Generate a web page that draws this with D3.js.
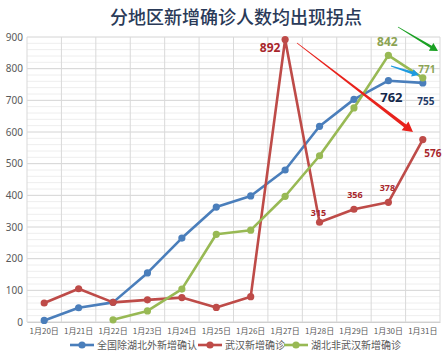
<!DOCTYPE html>
<html><head><meta charset="utf-8">
<script src="https://cdn.jsdelivr.net/npm/d3@7"></script>
<style>body{margin:0;background:#fff}svg{display:block}</style>
</head><body>
<svg id="c" width="448" height="356"></svg>
<script>
const dates = ["1月20日","1月21日","1月22日","1月23日","1月24日","1月25日","1月26日","1月27日","1月28日","1月29日","1月30日","1月31日"];
const outsideHubei = [5,45,62,155,265,363,398,480,618,703,762,755];
const wuhan = [60,105,62,70,77,46,80,892,315,356,378,576];
const hubeiNonWuhan = [null,null,7,35,104,277,290,397,525,676,842,771];
const seriesNames = ["全国除湖北外新增确认","武汉新增确诊","湖北非武汉新增确诊"];
const seriesColors = ["#4a7ebb","#be4b48","#98b954"];
const yTicks = [0,100,200,300,400,500,600,700,800,900];
const title = "分地区新增确诊人数均出现拐点";

const svg = d3.select("#c");
const L = 27, R = 440, T = 37, B = 322;
const x = d3.scaleBand().domain(dates).range([L, R]);
const y = d3.scaleLinear().domain([0, 900]).range([B, T]);
const cx = d => x(d) + x.bandwidth()/2;

// minor grid
const g = svg.append("g");
g.selectAll("line.minor").data(d3.range(0, 901, 20)).join("line")
  .attr("x1", L).attr("x2", R).attr("y1", d => y(d)).attr("y2", d => y(d))
  .attr("stroke", d => d % 100 === 0 ? "#d4d4d4" : "#eeeeee").attr("stroke-width", 1);
// vertical grid
g.selectAll("line.v").data(dates.concat(["end"])).join("line")
  .attr("x1", (d,i) => L + i*x.bandwidth()).attr("x2", (d,i) => L + i*x.bandwidth())
  .attr("y1", T).attr("y2", B).attr("stroke", "#d9d9d9");

// y axis labels
const yAxis = d3.axisLeft(y).tickValues(yTicks).tickSize(0).tickPadding(4);
const ya = svg.append("g").attr("transform", `translate(${L},0)`).call(yAxis);
ya.select(".domain").remove();
ya.selectAll("text").attr("font-family","Noto Sans, sans-serif").attr("font-size",10).attr("fill","#595959");

// x axis labels
const xAxis = d3.axisBottom(x).tickSize(0).tickPadding(6);
const xa = svg.append("g").attr("transform", `translate(0,${B})`).call(xAxis);
xa.select(".domain").attr("stroke","#d0d0d0");
xa.selectAll("text").attr("font-family","Noto Sans CJK SC, sans-serif").attr("font-size",8).attr("fill","#595959");

// lines
const all = [outsideHubei, wuhan, hubeiNonWuhan];
const line = d3.line().defined(d => d[1] !== null).x(d => cx(d[0])).y(d => y(d[1]));
all.forEach((vals, si) => {
  const pts = dates.map((d,i) => [d, vals[i]]);
  svg.append("path").attr("d", line(pts)).attr("fill","none")
    .attr("stroke", seriesColors[si]).attr("stroke-width", 2.6).attr("stroke-linejoin","round");
  svg.append("g").selectAll("circle").data(pts.filter(p => p[1] !== null)).join("circle")
    .attr("cx", p => cx(p[0])).attr("cy", p => y(p[1])).attr("r", 3.6)
    .attr("fill", seriesColors[si]);
});

// title
svg.append("text").attr("x", 236).attr("y", 24).attr("text-anchor","middle")
  .attr("font-family","Noto Sans CJK SC, sans-serif").attr("font-weight","500")
  .attr("font-size",18).attr("fill","#2a3a58").text(title);

// annotations
function lab(t, xx, yy, col, size, weight) {
  svg.append("text").attr("x", xx).attr("y", yy).attr("text-anchor","middle")
    .attr("font-family","Noto Sans, sans-serif").attr("font-size", size)
    .attr("font-weight", weight || "bold").attr("fill", col).text(t);
}
lab(wuhan[7], cx(dates[7]) - 15, y(wuhan[7]) + 12, "#a8262b", 12);
lab(hubeiNonWuhan[10], cx(dates[10]) - 1, y(hubeiNonWuhan[10]) - 9, "#8ca353", 12);
lab(outsideHubei[10], cx(dates[10]) + 3, y(outsideHubei[10]) + 21, "#14284a", 13);
lab(outsideHubei[11], cx(dates[11]) + 3, y(outsideHubei[11]) + 22, "#1f3a66", 10);
lab(hubeiNonWuhan[11], cx(dates[11]) + 4, y(hubeiNonWuhan[11]) - 5, "#8ca353", 10);
lab(wuhan[8], cx(dates[8]) - 1, y(wuhan[8]) - 6, "#a8262b", 9);
lab(wuhan[9], cx(dates[9]) + 1, y(wuhan[9]) - 11, "#a8262b", 9);
lab(wuhan[10], cx(dates[10]) - 1, y(wuhan[10]) - 11, "#a8262b", 9);
lab(wuhan[11], cx(dates[11]) + 10, y(wuhan[11]) + 17, "#a8262b", 10);

// arrows (tapered)
function taper(x1, y1, x2, y2, w1, w2, head, col) {
  const dx = x2-x1, dy = y2-y1, len = Math.hypot(dx,dy);
  const ux = dx/len, uy = dy/len, nx = -uy, ny = ux;
  const bx = x2 - ux*head, by = y2 - uy*head;
  const hw = head*0.55;
  const pts = [
    [x1 + nx*w1/2, y1 + ny*w1/2],
    [bx + nx*w2/2, by + ny*w2/2],
    [bx + nx*hw, by + ny*hw],
    [x2, y2],
    [bx - nx*hw, by - ny*hw],
    [bx - nx*w2/2, by - ny*w2/2],
    [x1 - nx*w1/2, y1 - ny*w1/2]
  ];
  svg.append("path").attr("d", d3.line()(pts) + "Z").attr("fill", col);
}
taper(297, 43, 413, 132, 0.8, 3.6, 10, "#e8221c");
taper(398, 27, 438, 51, 0.8, 2.6, 8, "#1aa023");
taper(391, 66, 419, 75, 0.8, 2.8, 7, "#1e9be0");

// legend
const leg = svg.append("g").attr("transform","translate(0,345)");
const legX = [70, 198, 284];
seriesNames.forEach((n, i) => {
  const gx = leg.append("g").attr("transform", `translate(${legX[i]},0)`);
  gx.append("line").attr("x1",0).attr("x2",24).attr("y1",0).attr("y2",0)
    .attr("stroke", seriesColors[i]).attr("stroke-width",2.6);
  gx.append("circle").attr("cx",12).attr("cy",0).attr("r",3.6).attr("fill",seriesColors[i]);
  gx.append("text").attr("x",27).attr("y",4).attr("font-family","Noto Sans CJK SC, sans-serif")
    .attr("font-size",10).attr("fill","#595959").text(n);
});
</script>
</body></html>
